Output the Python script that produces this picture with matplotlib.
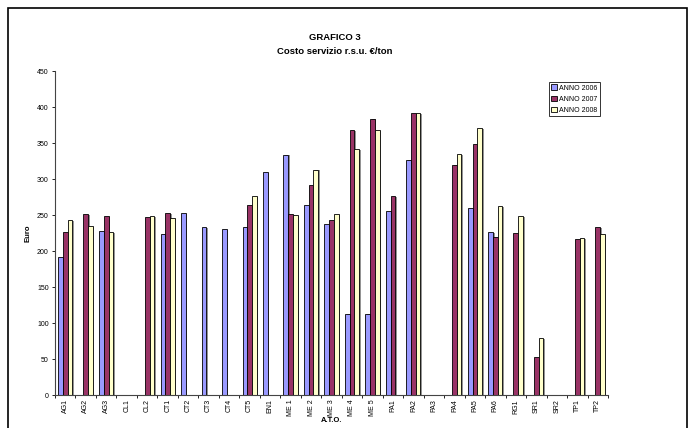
import numpy as np
import matplotlib
matplotlib.use("Agg")
import matplotlib.pyplot as plt
import matplotlib.patheffects as pe
from matplotlib.patches import Rectangle

plt.rcParams['font.family'] = ['Liberation Sans', 'DejaVu Sans']

categories = ["AG1", "AG2", "AG3", "CL1", "CL2", "CT1", "CT2", "CT3", "CT4", "CT5",
              "EN1", "ME 1", "ME 2", "ME 3", "ME 4", "ME 5", "PA1", "PA2", "PA3",
              "PA4", "PA5", "PA6", "RG1", "SR1", "SR2", "TP1", "TP2"]
nan = np.nan
anno_2006 = [191, nan, 228, nan, nan, 224, 253, 233, 230, 234,
             310, 334, 264, 237, 113, 113, 255, 327, nan,
             nan, 260, 226, nan, nan, nan, nan, nan]
anno_2007 = [226, 251, 248, nan, 247, 253, nan, nan, nan, 264,
             nan, 251, 291, 243, 368, 384, 276, 391, nan,
             320, 348, 220, 225, 53, nan, 217, 233]
anno_2008 = [243, 235, 226, nan, 248, 246, nan, nan, nan, 276,
             nan, 250, 313, 251, 341, 368, nan, 391, nan,
             335, 371, 262, 249, 79, nan, 218, 223]
series_names = ["ANNO 2006", "ANNO 2007", "ANNO 2008"]
colors = ["#9999FF", "#993366", "#FFFFCC"]

fig = plt.figure(figsize=(6.9, 4.28), dpi=100)
fig.patches.append(Rectangle((8/690, -0.05), (687-8)/690, 1.05 - 8/428,
                             transform=fig.transFigure, fill=False,
                             edgecolor='black', linewidth=1.2))
ax = fig.add_axes([55/690, 1-395/428, (608-55)/690, (395-71)/428])

x = np.arange(len(categories))
w = 0.23
shadow = [pe.SimplePatchShadow(offset=(1.2, -0.6), shadow_rgbFace='#888888', alpha=0.9), pe.Normal()]
for i, (vals, name, c) in enumerate(zip([anno_2006, anno_2007, anno_2008], series_names, colors)):
    bars = ax.bar(x + (i - 1) * w, vals, width=w, color=c, edgecolor='black',
                  linewidth=0.6, label=name)
    for b in bars:
        b.set_path_effects(shadow)

ax.set_xlim(-0.5, len(categories) - 0.5)
ax.set_ylim(0, 450)
ax.set_yticks(np.arange(0, 451, 50))
ax.set_xticks(x)
ax.set_xticklabels(categories, rotation=90, fontsize=5)
ax.set_xticks(np.arange(-0.5, len(categories), 1), minor=True)
ax.tick_params(axis='x', which='major', length=0, pad=3)
ax.tick_params(axis='x', which='minor', length=2.5, width=0.6, direction='out')
ax.tick_params(axis='y', labelsize=5, length=2.5, width=0.6, direction='out', pad=2)
for s in ['top', 'right']:
    ax.spines[s].set_visible(False)
ax.spines['left'].set_linewidth(0.8)
ax.spines['bottom'].set_linewidth(0.8)
ax.spines['left'].set_color('#444444')
ax.spines['bottom'].set_color('#444444')

ax.set_ylabel("Euro", fontsize=5.5, fontweight='bold', labelpad=4)
ax.set_xlabel("A.T.O.", fontsize=5.5, fontweight='bold', labelpad=1)

fig.text(335/690, 1-38/428, "GRAFICO 3", ha='center', va='center', fontsize=6.8, fontweight='bold')
fig.text(335/690, 1-52/428, "Costo servizio r.s.u. €/ton", ha='center', va='center', fontsize=6.8, fontweight='bold')

leg = ax.legend(loc='upper left', bbox_to_anchor=((549-55)/(608-55), (395-82)/(395-71)),
                fontsize=5, frameon=True, fancybox=False, edgecolor='black',
                handlelength=0.8, handleheight=0.8, handletextpad=0.3,
                borderpad=0.35, labelspacing=0.6, borderaxespad=0)
leg.get_frame().set_linewidth(0.7)
for h in leg.legend_handles:
    h.set_path_effects([])

fig.savefig("out.png", dpi=100)
